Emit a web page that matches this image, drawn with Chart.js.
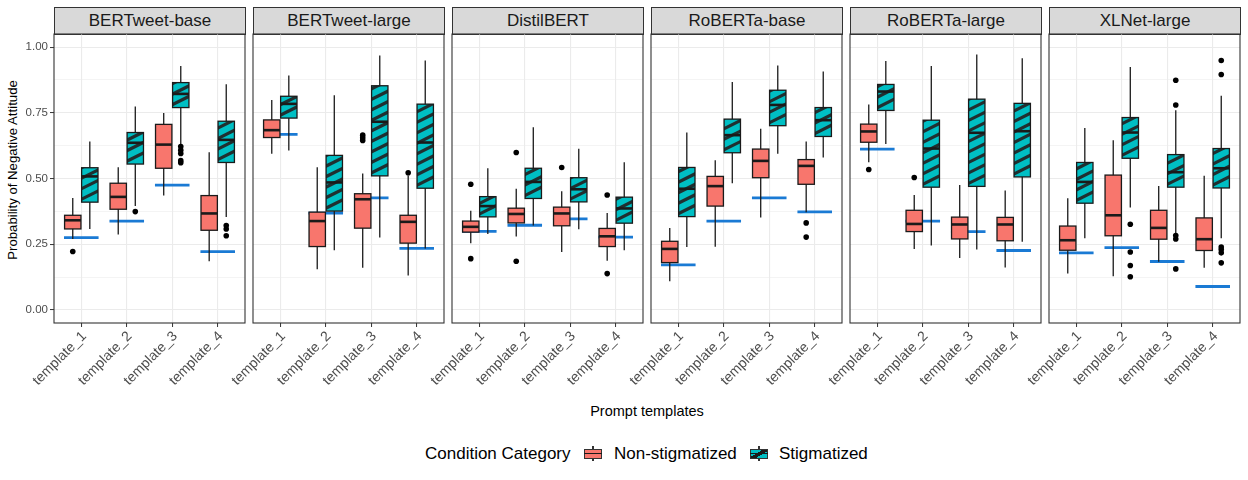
<!DOCTYPE html>
<html>
<head>
<meta charset="utf-8">
<script src="https://cdn.jsdelivr.net/npm/chart.js@4.4.1/dist/chart.umd.min.js"></script>
<style>
  html, body { margin: 0; padding: 0; background: #fff; }
  body { width: 1248px; height: 480px; position: relative; overflow: hidden;
         font-family: "Liberation Sans", Arial, Helvetica, sans-serif; }
  canvas.panel { position: absolute; top: 24px; }
  .strip { position: absolute; top: 7px; height: 28px; width: 192px; box-sizing: border-box;
           background: #d9d9d9; border: 1px solid #333; font-size: 17px; color: #1a1a1a;
           text-align: center; line-height: 26px; }
  .txt { position: absolute; white-space: nowrap; line-height: 1; color: #000; }
  #ytitle { left: 13px; top: 170px; font-size: 13.2px; transform: translate(-50%, -50%) rotate(-90deg); }
  #xtitle { left: 647px; top: 404px; font-size: 14.5px; transform: translateX(-50%); }
  .leg { top: 445px; font-size: 17px; }
  .key { position: absolute; top: 446px; width: 18px; height: 15px; }
  .key .wh { position: absolute; left: 8px; top: 0; width: 1.5px; height: 15px; background: #333; }
  .key .bx { position: absolute; left: 0; top: 2.5px; width: 18px; height: 10px; box-sizing: border-box;
             border: 1.3px solid #333; }
  .key .md { position: absolute; left: 0; top: 6.8px; width: 18px; height: 1.6px; background: #1a1a1a; }
</style>
</head>
<body>
<div id="ytitle" class="txt">Probability of Negative Attitude</div>
<div id="xtitle" class="txt">Prompt templates</div>
<div class="txt leg" style="left:425px">Condition Category</div>
<div class="key" style="left:584px"><div class="wh"></div><div class="bx" style="background:#F8766D"></div><div class="md"></div></div>
<div class="txt leg" style="left:614px">Non-stigmatized</div>
<div class="key" style="left:750px"><div class="wh"></div><div class="bx" style="background:linear-gradient(150deg,#00BFC4 38%,#1a1a1a 38%,#1a1a1a 62%,#00BFC4 62%)"></div><div class="md"></div></div>
<div class="txt leg" style="left:779px">Stigmatized</div>
<script>
Chart.defaults.font.family = '"Liberation Sans", Arial, Helvetica, sans-serif';

const models = ["BERTweet-base", "BERTweet-large", "DistilBERT", "RoBERTa-base", "RoBERTa-large", "XLNet-large"];
const templates = ["template_1", "template_2", "template_3", "template_4"];
const yTicks = [0, 0.125, 0.25, 0.375, 0.5, 0.625, 0.75, 0.875, 1];

// [lower whisker, q1, median, q3, upper whisker] per model, per template
const nonStigBoxes = [
  [[0.270, 0.308, 0.341, 0.360, 0.426], [0.287, 0.383, 0.430, 0.482, 0.543], [0.435, 0.539, 0.629, 0.706, 0.749], [0.185, 0.303, 0.367, 0.435, 0.600]],
  [[0.594, 0.656, 0.684, 0.723, 0.799], [0.155, 0.241, 0.338, 0.372, 0.543], [0.160, 0.311, 0.421, 0.442, 0.519], [0.131, 0.254, 0.335, 0.360, 0.511]],
  [[0.254, 0.296, 0.316, 0.338, 0.377], [0.279, 0.331, 0.365, 0.387, 0.461], [0.220, 0.320, 0.367, 0.391, 0.451], [0.187, 0.241, 0.280, 0.310, 0.369]],
  [[0.109, 0.180, 0.232, 0.261, 0.312], [0.240, 0.395, 0.471, 0.508, 0.569], [0.352, 0.503, 0.567, 0.612, 0.689], [0.372, 0.478, 0.548, 0.572, 0.641]],
  [[0.562, 0.638, 0.679, 0.707, 0.782], [0.232, 0.298, 0.327, 0.379, 0.437], [0.197, 0.270, 0.325, 0.353, 0.475], [0.161, 0.263, 0.325, 0.352, 0.454]],
  [[0.138, 0.227, 0.265, 0.319, 0.425], [0.128, 0.282, 0.360, 0.513, 0.646], [0.183, 0.269, 0.312, 0.379, 0.471], [0.160, 0.226, 0.269, 0.350, 0.510]]
];
const stigBoxes = [
  [[0.308, 0.410, 0.508, 0.541, 0.641], [0.395, 0.555, 0.636, 0.675, 0.774], [0.628, 0.770, 0.822, 0.865, 0.928], [0.353, 0.561, 0.647, 0.718, 0.859]],
  [[0.607, 0.730, 0.784, 0.813, 0.892], [0.227, 0.376, 0.485, 0.588, 0.817], [0.275, 0.510, 0.716, 0.853, 0.968], [0.234, 0.463, 0.637, 0.783, 0.949]],
  [[0.289, 0.354, 0.395, 0.431, 0.539], [0.321, 0.424, 0.487, 0.539, 0.695], [0.307, 0.411, 0.459, 0.503, 0.613], [0.227, 0.330, 0.386, 0.429, 0.562]],
  [[0.239, 0.355, 0.461, 0.542, 0.675], [0.482, 0.598, 0.665, 0.726, 0.867], [0.594, 0.701, 0.780, 0.836, 0.930], [0.580, 0.660, 0.722, 0.770, 0.907]],
  [[0.631, 0.759, 0.831, 0.858, 0.947], [0.245, 0.467, 0.614, 0.722, 0.928], [0.230, 0.470, 0.674, 0.802, 0.972], [0.259, 0.506, 0.680, 0.786, 0.958]],
  [[0.273, 0.406, 0.487, 0.561, 0.692], [0.390, 0.577, 0.675, 0.732, 0.924], [0.289, 0.467, 0.524, 0.591, 0.760], [0.273, 0.464, 0.539, 0.614, 0.815]]
];
const nonStigOutliers = [
  [[0.222], [], [], []],
  [[], [], [0.665, 0.655, 0.645], [0.522]],
  [[0.478, 0.195], [0.599, 0.185], [0.542], [0.437, 0.138]],
  [[], [], [], [0.331, 0.277]],
  [[0.534], [0.504], [], []],
  [[], [], [], []]
];
const stigOutliers = [
  [[], [0.374], [0.622, 0.608, 0.595, 0.568, 0.560], [0.321, 0.308, 0.282]],
  [[], [], [], []],
  [[], [], [], []],
  [[], [], [], []],
  [[], [], [], []],
  [[], [0.326, 0.220, 0.169, 0.126], [0.874, 0.780, 0.283, 0.270, 0.156], [0.949, 0.896, 0.239, 0.230, 0.217, 0.179]]
];
// blue reference level per model, per template
const referenceLevel = [
  [0.275, 0.338, 0.475, 0.222],
  [0.668, 0.368, 0.426, 0.234],
  [0.299, 0.322, 0.346, 0.277],
  [0.171, 0.338, 0.426, 0.373],
  [0.612, 0.338, 0.298, 0.226],
  [0.217, 0.237, 0.184, 0.089]
];

const RED = "#F8766D", TEAL = "#00BFC4", INK = "#1a1a1a", REF_BLUE = "#1a7ad4";
const OFFSET = 0.1875, BOX_W = 0.36, REF_HALF = 0.38;
const HATCH_GAP = 10.5, HATCH_SLOPE = 0.5;
const PAD_L = 70, PAD_R = 4, PANEL_W = 191, PANEL_STEP = 199, FIRST_LEFT = 54;

const isMajor = (v) => Math.abs(v * 4 - Math.round(v * 4)) < 1e-6;

const boxPlugin = {
  id: "boxes",
  beforeDatasetDraw(chart, args, opts) {
    if (args.index !== 1) return;
    const m = opts.model;
    const xs = chart.scales.x, ys = chart.scales.y, ctx = chart.ctx;
    ctx.save();
    [nonStigBoxes, stigBoxes].forEach((boxes, c) => {
      boxes[m].forEach((s, j) => {
        const pos = j + 1 + (c ? OFFSET : -OFFSET);
        const cx = xs.getPixelForValue(pos);
        const x0 = xs.getPixelForValue(pos - BOX_W / 2);
        const x1 = xs.getPixelForValue(pos + BOX_W / 2);
        const [lo, q1, med, q3, hi] = s.map((v) => ys.getPixelForValue(v));
        ctx.strokeStyle = INK;
        ctx.lineWidth = 1.3;
        ctx.beginPath();
        ctx.moveTo(cx, lo);
        ctx.lineTo(cx, hi);
        ctx.stroke();
        ctx.fillStyle = c ? TEAL : RED;
        ctx.fillRect(x0, q3, x1 - x0, q1 - q3);
        if (c) {
          ctx.save();
          ctx.beginPath();
          ctx.rect(x0, q3, x1 - x0, q1 - q3);
          ctx.clip();
          ctx.strokeStyle = "rgba(35,35,35,0.92)";
          ctx.lineWidth = 3.2;
          const rise = (x1 - x0) * HATCH_SLOPE;
          for (let yb = q1 - 3; yb > q3 - rise - HATCH_GAP; yb -= HATCH_GAP) {
            ctx.beginPath();
            ctx.moveTo(x0 - 1, yb + HATCH_SLOPE);
            ctx.lineTo(x1 + 1, yb - rise - HATCH_SLOPE);
            ctx.stroke();
          }
          ctx.restore();
        }
        ctx.strokeStyle = INK;
        ctx.lineWidth = 1.3;
        ctx.strokeRect(x0, q3, x1 - x0, q1 - q3);
        ctx.lineWidth = 2.6;
        ctx.beginPath();
        ctx.moveTo(x0, med);
        ctx.lineTo(x1, med);
        ctx.stroke();
      });
    });
    ctx.restore();
  },
  afterDatasetsDraw(chart) {
    const a = chart.chartArea, ctx = chart.ctx;
    ctx.save();
    ctx.strokeStyle = "#333";
    ctx.lineWidth = 1.1;
    ctx.strokeRect(a.left, a.top, a.right - a.left, a.bottom - a.top);
    ctx.restore();
  }
};

models.forEach((name, m) => {
  const left = FIRST_LEFT + m * PANEL_STEP;
  const strip = document.createElement("div");
  strip.className = "strip";
  strip.style.left = left + "px";
  strip.textContent = name;
  document.body.appendChild(strip);

  const cv = document.createElement("canvas");
  cv.className = "panel";
  cv.width = PAD_L + PANEL_W + PAD_R;
  cv.height = 376;
  cv.style.left = left - PAD_L + "px";
  document.body.appendChild(cv);

  const refPoints = [];
  referenceLevel[m].forEach((v, j) => {
    refPoints.push({ x: j + 1 - REF_HALF, y: v }, { x: j + 1 + REF_HALF, y: v }, { x: j + 1.5, y: null });
  });
  const outPoints = [];
  [nonStigOutliers, stigOutliers].forEach((outs, c) => {
    outs[m].forEach((list, j) => {
      list.forEach((v) => outPoints.push({ x: j + 1 + (c ? OFFSET : -OFFSET), y: v }));
    });
  });

  const first = m === 0;
  new Chart(cv, {
    type: "scatter",
    data: {
      datasets: [
        {
          type: "line",
          label: "reference",
          data: refPoints,
          showLine: true,
          spanGaps: false,
          borderColor: REF_BLUE,
          borderWidth: 2.8,
          pointRadius: 0,
          order: 2,
        },
        {
          label: "outliers",
          data: outPoints,
          pointRadius: 2.8,
          pointHoverRadius: 2.8,
          backgroundColor: "#000",
          borderWidth: 0,
          order: 1,
        },
      ],
    },
    options: {
      responsive: false,
      animation: false,
      events: [],
      layout: { padding: { left: first ? PAD_L - 30 : PAD_L, right: PAD_R, top: 10, bottom: 0 } },
      plugins: {
        legend: { display: false },
        tooltip: { enabled: false },
        boxes: { model: m },
      },
      scales: {
        x: {
          type: "linear",
          min: 0.4,
          max: 4.6,
          afterBuildTicks: (s) => { s.ticks = templates.map((t, i) => ({ value: i + 1 })); },
          afterFit: (s) => { s.height = 77; },
          border: { display: false },
          grid: { color: "#ebebeb", lineWidth: 1.1, tickColor: "#333", tickLength: 4, tickWidth: 1 },
          ticks: {
            autoSkip: false,
            minRotation: 45,
            maxRotation: 45,
            padding: 1,
            labelOffset: 3,
            color: "#4d4d4d",
            font: { size: 14 },
            callback: (v) => templates[v - 1],
          },
        },
        y: {
          min: -0.05,
          max: 1.05,
          afterBuildTicks: (s) => { s.ticks = yTicks.map((v) => ({ value: v })); },
          afterFit: (s) => { s.width = first ? 30 : 0; },
          border: { display: false },
          grid: {
            color: "#ebebeb",
            lineWidth: (c) => (isMajor(c.tick.value) ? 1.1 : 0.55),
            drawTicks: first,
            tickLength: 4,
            tickWidth: 1,
            tickColor: (c) => (isMajor(c.tick.value) ? "#333" : "rgba(0,0,0,0)"),
          },
          ticks: {
            display: first,
            padding: 2,
            color: "#4d4d4d",
            font: { size: 11.5 },
            callback: (v) => (isMajor(v) ? v.toFixed(2) : ""),
          },
        },
      },
    },
    plugins: [boxPlugin],
  });
});
</script>
</body>
</html>
